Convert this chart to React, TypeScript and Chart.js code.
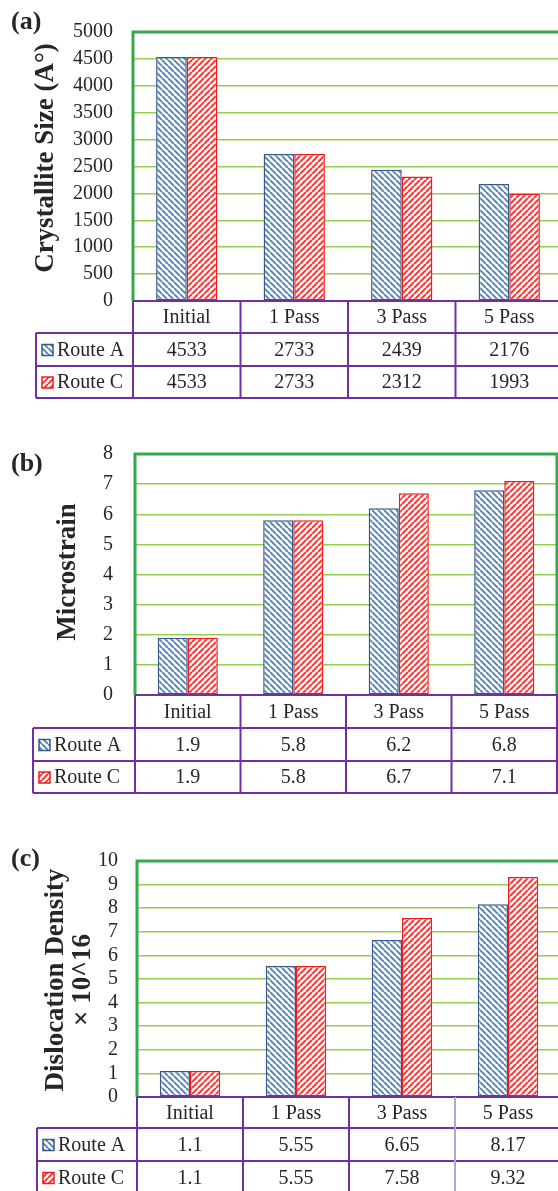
import { useEffect, useRef } from 'react';
import { Chart, registerables } from 'chart.js';

Chart.register(...registerables);

const categories = ['Initial', '1 Pass', '3 Pass', '5 Pass'];
const seriesNames = ['Route A', 'Route C'];

const crystalliteA = [4533, 2733, 2439, 2176];
const crystalliteC = [4533, 2733, 2312, 1993];
const crystalliteTicks = { min: 0, max: 5000, step: 500 };

const microstrainA = [1.9, 5.8, 6.2, 6.8];
const microstrainC = [1.9, 5.8, 6.7, 7.1];
const microstrainTicks = { min: 0, max: 8, step: 1 };

const dislocationA = [1.1, 5.55, 6.65, 8.17];
const dislocationC = [1.1, 5.55, 7.58, 9.32];
const dislocationTicks = { min: 0, max: 10, step: 1 };

const SERIF = '"Liberation Serif", "DejaVu Serif", serif';
const TEXT = '#262626';
const GREEN = '#35a84f';
const GRID = '#92d050';
const PURPLE = '#7030a0';
const BLUE_LINE = '#4f81bd';
const BLUE_BORDER = '#36598a';
const RED_LINE = '#ff2b2b';
const RED_BORDER = '#ee1c1c';

type PanelCfg = {
  tag: string;
  titles: { text: string; x: number }[];
  titleY: number;
  tagY: number;
  a: number[];
  c: number[];
  ticks: { min: number; max: number; step: number };
  top: number;
  height: number;
  width: number;
  area: { left: number; top: number; bottom: number; right: number };
  rows: number[];
  legendLeft: number;
  tickPad: number;
  rightBorder: boolean;
  lastColColor: string;
};

const panels: PanelCfg[] = [
  {
    tag: '(a)',
    titles: [{ text: 'Crystallite Size (A°)', x: 46 }],
    titleY: 158,
    tagY: 22,
    a: crystalliteA,
    c: crystalliteC,
    ticks: crystalliteTicks,
    top: 0,
    height: 400,
    width: 564,
    area: { left: 133, top: 15, bottom: 301, right: 563 },
    rows: [301, 333, 366, 398],
    legendLeft: 36,
    tickPad: 20,
    rightBorder: false,
    lastColColor: PURPLE,
  },
  {
    tag: '(b)',
    titles: [{ text: 'Microstrain', x: 68 }],
    titleY: 572,
    tagY: 464,
    a: microstrainA,
    c: microstrainC,
    ticks: microstrainTicks,
    top: 420,
    height: 380,
    width: 558,
    area: { left: 135, top: 449, bottom: 695, right: 557 },
    rows: [695, 728, 761, 793],
    legendLeft: 33,
    tickPad: 22,
    rightBorder: true,
    lastColColor: PURPLE,
  },
  {
    tag: '(c)',
    titles: [
      { text: 'Dislocation Density', x: 56 },
      { text: '× 10^16', x: 83 },
    ],
    titleY: 980,
    tagY: 859,
    a: dislocationA,
    c: dislocationC,
    ticks: dislocationTicks,
    top: 830,
    height: 361,
    width: 562,
    area: { left: 137, top: 856, bottom: 1097, right: 561 },
    rows: [1097, 1128, 1161, 1194],
    legendLeft: 37,
    tickPad: 19,
    rightBorder: false,
    lastColColor: '#b9a3d3',
  },
];

function makePattern(color: string, down: boolean): CanvasPattern | string {
  const s = 6;
  const c = document.createElement('canvas');
  c.width = s;
  c.height = s;
  const ctx = c.getContext('2d');
  if (!ctx) return color;
  ctx.fillStyle = '#ffffff';
  ctx.fillRect(0, 0, s, s);
  ctx.strokeStyle = color;
  ctx.lineWidth = 1.9;
  ctx.beginPath();
  for (let k = -1; k <= 1; k++) {
    if (down) {
      ctx.moveTo(k * s, 0);
      ctx.lineTo(k * s + s, s);
    } else {
      ctx.moveTo(k * s, s);
      ctx.lineTo(k * s + s, 0);
    }
  }
  ctx.stroke();
  const p = ctx.createPattern(c, 'repeat');
  return p || color;
}

function PanelChart({ p }: { p: PanelCfg }) {
  const ref = useRef<HTMLCanvasElement>(null);
  useEffect(() => {
    const canvas = ref.current;
    if (!canvas) return;
    const patA = makePattern(BLUE_LINE, true);
    const patC = makePattern(RED_LINE, false);
    const off = p.top;

    const overlay = {
      id: 'overlay',
      afterDraw(chart: any) {
        const ctx: CanvasRenderingContext2D = chart.ctx;
        const ca = chart.chartArea;
        ctx.save();
        // plot borders
        ctx.strokeStyle = GREEN;
        ctx.lineWidth = 3;
        ctx.beginPath();
        ctx.moveTo(ca.left, ca.bottom);
        ctx.lineTo(ca.left, ca.top);
        ctx.lineTo(ca.right + 2, ca.top);
        if (p.rightBorder) {
          ctx.moveTo(ca.right, ca.top);
          ctx.lineTo(ca.right, ca.bottom);
        }
        ctx.stroke();

        // table
        const r = p.rows.map((y) => y - off);
        const colW = (ca.right - ca.left) / categories.length;
        const cols = categories.map((_, i) => ca.left + i * colW);
        ctx.strokeStyle = PURPLE;
        ctx.lineWidth = 2;
        ctx.beginPath();
        ctx.moveTo(ca.left, r[0]);
        ctx.lineTo(ca.right + 2, r[0]);
        for (let i = 1; i < 4; i++) {
          ctx.moveTo(p.legendLeft, r[i]);
          ctx.lineTo(ca.right + 2, r[i]);
        }
        ctx.moveTo(p.legendLeft, r[1]);
        ctx.lineTo(p.legendLeft, r[3]);
        for (let i = 0; i < cols.length - 1; i++) {
          ctx.moveTo(cols[i], r[0]);
          ctx.lineTo(cols[i], r[3]);
        }
        ctx.moveTo(ca.right, r[0]);
        ctx.lineTo(ca.right, r[3]);
        ctx.stroke();
        ctx.strokeStyle = p.lastColColor;
        ctx.beginPath();
        ctx.moveTo(cols[cols.length - 1], r[0]);
        ctx.lineTo(cols[cols.length - 1], r[3]);
        ctx.stroke();

        ctx.fillStyle = TEXT;
        ctx.font = `20px ${SERIF}`;
        ctx.textAlign = 'center';
        ctx.textBaseline = 'middle';
        categories.forEach((cat, i) => {
          ctx.fillText(cat, cols[i] + colW / 2, (r[0] + r[1]) / 2 + 1);
        });
        const rowsData = [p.a, p.c];
        rowsData.forEach((vals, ri) => {
          const yc = (r[ri + 1] + r[ri + 2]) / 2 + 1;
          vals.forEach((v, i) => {
            ctx.fillText(String(v), cols[i] + colW / 2, yc);
          });
          // legend swatch
          const sx = p.legendLeft + 6;
          const sy = yc - 6;
          ctx.fillStyle = (ri === 0 ? patA : patC) as any;
          ctx.fillRect(sx, sy, 11, 11);
          ctx.strokeStyle = ri === 0 ? BLUE_BORDER : RED_BORDER;
          ctx.lineWidth = 1.5;
          ctx.strokeRect(sx, sy, 11, 11);
          ctx.fillStyle = TEXT;
          ctx.textAlign = 'left';
          ctx.fillText(seriesNames[ri], sx + 15, yc);
          ctx.textAlign = 'center';
        });

        // tag
        ctx.font = `bold 26px ${SERIF}`;
        ctx.textAlign = 'left';
        ctx.fillText(p.tag, 11, p.tagY - off);

        // axis titles
        ctx.font = `bold 27px ${SERIF}`;
        ctx.textAlign = 'center';
        p.titles.forEach((t) => {
          ctx.save();
          ctx.translate(t.x, p.titleY - off);
          ctx.rotate(-Math.PI / 2);
          ctx.fillText(t.text, 0, 0);
          ctx.restore();
        });
        ctx.restore();
      },
    };

    const chart = new Chart(canvas, {
      type: 'bar',
      data: {
        labels: categories,
        datasets: [
          {
            label: seriesNames[0],
            data: p.a,
            backgroundColor: patA as any,
            borderColor: BLUE_BORDER,
            borderWidth: 1.5,
            borderSkipped: false,
          },
          {
            label: seriesNames[1],
            data: p.c,
            backgroundColor: patC as any,
            borderColor: RED_BORDER,
            borderWidth: 1.5,
            borderSkipped: false,
          },
        ],
      },
      options: {
        responsive: false,
        animation: false,
        events: [],
        layout: {
          autoPadding: false,
          padding: {
            left: 0,
            top: p.area.top - p.top,
            bottom: p.height - (p.area.bottom - p.top),
            right: p.width - p.area.right,
          },
        },
        plugins: {
          legend: { display: false },
          tooltip: { enabled: false },
          title: { display: false },
        },
        datasets: {
          bar: { categoryPercentage: 0.57, barPercentage: 1 },
        },
        scales: {
          x: { display: false },
          y: {
            min: p.ticks.min,
            max: p.ticks.max,
            ticks: {
              stepSize: p.ticks.step,
              autoSkip: false,
              padding: p.tickPad,
              color: TEXT,
              font: { family: SERIF, size: 20 },
              callback: (v: any) => String(v),
            },
            grid: { color: GRID, lineWidth: 1.5, drawTicks: false },
            border: { display: false },
            afterFit: (s: any) => {
              s.width = p.area.left;
            },
          },
        },
      },
      plugins: [overlay],
    });
    return () => chart.destroy();
  }, [p]);
  return (
    <canvas
      ref={ref}
      width={p.width}
      height={p.height}
      style={{ position: 'absolute', left: 0, top: p.top, width: p.width, height: p.height }}
    />
  );
}

export default function App() {
  return (
    <div
      style={{
        position: 'absolute',
        left: 0,
        top: 0,
        width: 558,
        height: 1191,
        overflow: 'hidden',
        background: '#ffffff',
      }}
    >
      {panels.map((p) => (
        <PanelChart key={p.tag} p={p} />
      ))}
    </div>
  );
}
